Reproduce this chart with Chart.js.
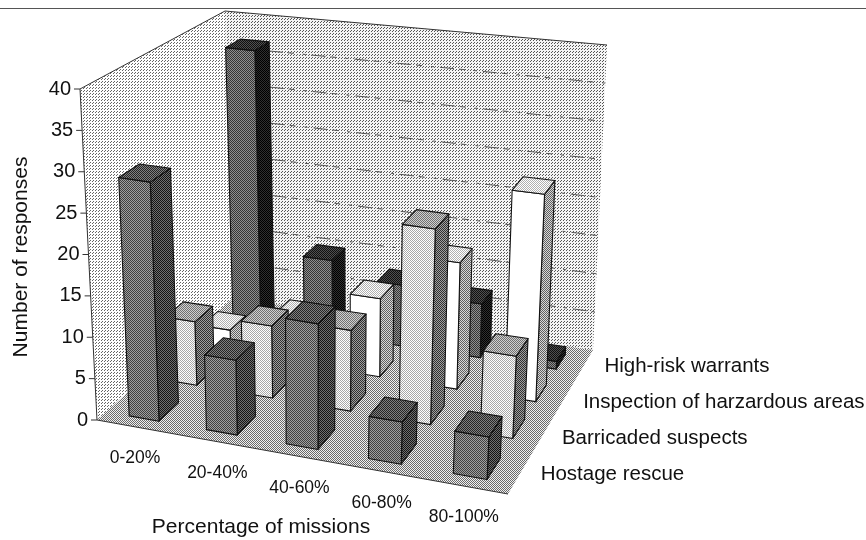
<!DOCTYPE html>
<html><head><meta charset="utf-8">
<style>html,body{margin:0;padding:0;background:#fff}canvas{display:block}</style>
<script src="https://cdn.jsdelivr.net/npm/chart.js@4/dist/chart.umd.js"></script>
</head><body><canvas id="c" width="866" height="540"></canvas>
<script>
const categories = ['0-20%','20-40%','40-60%','60-80%','80-100%'];
const hostageRescue = [29,9,15,5,5];
const barricadedSuspects = [8,9,10,24,10];
const inspectionAreas = [3,6,10,16,26];
const highRiskWarrants = [37,10,8,7,1];
const seriesNames = ['Hostage rescue','Barricaded suspects','Inspection of harzardous areas','High-risk warrants'];
const FONT = '"Liberation Sans", Arial, sans-serif';

// perspective frame of the 3D box: corners of floor and ceiling
const FLOOR = {fl:[97,420], fr:[508,494], bl:[233,298], br:[593,350]};
const CEIL  = {fl:[80,89],  fr:[525,150], bl:[225,11],  br:[607,45]};
const mix=(a,b,t)=>[a[0]+(b[0]-a[0])*t,a[1]+(b[1]-a[1])*t];
const bil=(q,u,v)=>mix(mix(q.fl,q.fr,u),mix(q.bl,q.br,u),v);
const P=(u,v,h)=>mix(bil(FLOOR,u,v),bil(CEIL,u,v),h);
// foreshortening along both floor directions, used for the boxes
const Q=(u,v,h)=>P(u-0.08*u*(1-u)*(1-0.5*v),v+0.24*v*(1-v),h);

function tile(size,bg,fg,cells){
  const c=document.createElement('canvas');c.width=c.height=size;
  const g=c.getContext('2d');g.fillStyle=bg;g.fillRect(0,0,size,size);
  g.fillStyle=fg;cells.forEach(p=>g.fillRect(p[0],p[1],1,1));
  return c;
}
const ctx0=document.getElementById('c').getContext('2d');
const pat=(t)=>ctx0.createPattern(t,'repeat');
const CHECK=[[0,0],[1,1]];
const wallP=pat(tile(3,'#f4f4f4','#555555',[[0,0],[2,1]]));
const leftP=pat(tile(3,'#ffffff','#666666',[[0,0],[2,1]]));
const floorP=pat(tile(2,'#f0f0f0','#6a6a6a',CHECK));
const FACES=[
 {front:pat(tile(2,'#a0a0a0','#404040',CHECK)),side:pat(tile(2,'#707070','#141414',CHECK)),top:pat(tile(2,'#808080','#252525',CHECK))},
 {front:pat(tile(2,'#ffffff','#a8a8a8',CHECK)),side:pat(tile(2,'#a0a0a0','#303030',CHECK)),top:pat(tile(2,'#d0d0d0','#707070',CHECK))},
 {front:'#ffffff',side:pat(tile(2,'#d8d8d8','#606060',CHECK)),top:pat(tile(2,'#ffffff','#b0b0b0',CHECK))},
 {front:pat(tile(2,'#909090','#353535',CHECK)),side:pat(tile(2,'#303030','#000000',CHECK)),top:pat(tile(2,'#505050','#101010',CHECK))}
];
function poly(ctx,pts,fill){
  ctx.beginPath();pts.forEach((p,i)=>i?ctx.lineTo(p[0],p[1]):ctx.moveTo(p[0],p[1]));ctx.closePath();
  if(fill){ctx.fillStyle=fill;ctx.fill();}
  ctx.strokeStyle='#111';ctx.lineWidth=1.1;ctx.stroke();
}
class Box3D extends Chart.BarElement{
  static id='box3d';
  drawBox(ctx,a,j){
    const {x,y,base,width}=this.getProps(['x','y','base','width']);
    const w=a.right-a.left;
    const u0=(x-width/2-a.left)/w, u1=(x+width/2-a.left)/w;
    const h=(base-y)/(base-a.top);
    const v0=(j+0.22)/4, v1=(j+0.72)/4;
    const f=FACES[j];
    ctx.save();ctx.lineJoin='round';
    poly(ctx,[Q(u1,v0,0),Q(u1,v1,0),Q(u1,v1,h),Q(u1,v0,h)],f.side);
    poly(ctx,[Q(u0,v0,0),Q(u1,v0,0),Q(u1,v0,h),Q(u0,v0,h)],f.front);
    poly(ctx,[Q(u0,v0,h),Q(u1,v0,h),Q(u1,v1,h),Q(u0,v1,h)],f.top);
    ctx.restore();
  }
}
class Bar3D extends Chart.BarController{
  static id='bar3d';
  static defaults={...Chart.BarController.defaults,dataElementType:'box3d'};
  draw(){
    const chart=this.chart;
    this._cachedMeta.data.forEach(el=>el.drawBox(chart.ctx,chart.chartArea,this.index));
  }
}
Chart.register(Box3D,Bar3D);

const frame={id:'frame',
  beforeDatasetsDraw(chart){
    const ctx=chart.ctx, yS=chart.scales.y;
    ctx.save();
    // rule at the top of the page
    ctx.strokeStyle='#555';ctx.lineWidth=1;ctx.beginPath();ctx.moveTo(0,8.5);ctx.lineTo(866,8.5);ctx.stroke();
    const noEdge=(pts,fill)=>{ctx.beginPath();pts.forEach((p,i)=>i?ctx.lineTo(p[0],p[1]):ctx.moveTo(p[0],p[1]));ctx.closePath();ctx.fillStyle=fill;ctx.fill();};
    noEdge([P(0,0,0),P(0,1,0),P(0,1,1),P(0,0,1)],leftP);
    noEdge([P(0,1,0),P(1,1,0),P(1,1,1),P(0,1,1)],wallP);
    noEdge([P(0,0,0),P(1,0,0),P(1,1,0),P(0,1,0)],floorP);
    // gridlines on the back wall
    ctx.strokeStyle='#555';ctx.lineWidth=1;
    yS.ticks.forEach(t=>{
      if(t.value===0||t.value===40) return;
      const h=t.value/yS.max;
      ctx.setLineDash([14,5,6,9,3,6]);
      ctx.beginPath();const a=P(0,1,h),b=P(1,1,h);ctx.moveTo(a[0],a[1]);ctx.lineTo(b[0],b[1]);ctx.stroke();
    });
    ctx.setLineDash([]);
    // frame edges
    ctx.strokeStyle='#333';ctx.lineWidth=1;
    [[P(0,0,0),P(1,0,0)],[P(0,0,0),P(0,0,1)],[P(0,0,1),P(0,1,1)],[P(0,1,1),P(1,1,1)]].forEach(s=>{ctx.beginPath();ctx.moveTo(s[0][0],s[0][1]);ctx.lineTo(s[1][0],s[1][1]);ctx.stroke();});
    ctx.restore();
  },
  afterDatasetsDraw(chart){
    const ctx=chart.ctx, yS=chart.scales.y, xS=chart.scales.x, a=chart.chartArea;
    ctx.save();ctx.fillStyle='#111';ctx.textBaseline='middle';
    // value axis
    ctx.font='20px '+FONT;ctx.textAlign='right';
    yS.ticks.forEach(t=>{
      const p=P(0,0,t.value/yS.max);
      ctx.strokeStyle='#333';ctx.lineWidth=1;ctx.beginPath();ctx.moveTo(p[0]-6,p[1]);ctx.lineTo(p[0],p[1]);ctx.stroke();
      ctx.fillText(String(t.value),p[0]-9,p[1]);
    });
    // category axis
    ctx.font='17.5px '+FONT;ctx.textAlign='center';
    categories.forEach((lab,i)=>{
      const u=(xS.getPixelForTick(i)-a.left)/(a.right-a.left);
      const p=P(u,0,0);
      ctx.fillText(lab,p[0]-3,p[1]+31);
    });
    // series labels
    ctx.font='20.5px '+FONT;ctx.textAlign='left';
    chart.data.datasets.forEach((d,j)=>{
      const p=P(1,(j+0.5)/4,0);
      ctx.fillText(d.label,p[0]+22,p[1]-2);
    });
    // axis titles
    ctx.font='21px '+FONT;ctx.textAlign='center';
    ctx.fillText('Percentage of missions',261,527);
    ctx.translate(21,257);ctx.rotate(-Math.PI/2);
    ctx.fillText('Number of responses',0,0);
    ctx.restore();
  }
};
const seriesData=[hostageRescue,barricadedSuspects,inspectionAreas,highRiskWarrants];
new Chart(document.getElementById('c'),{
  type:'bar3d',
  data:{labels:categories,datasets:seriesData.map((d,j)=>({label:seriesNames[j],data:d,clip:false}))},
  options:{
    responsive:false,animation:false,
    layout:{padding:{left:97,right:358,top:89,bottom:120}},
    datasets:{bar3d:{grouped:false,barPercentage:0.39,categoryPercentage:1}},
    plugins:{legend:{display:false},tooltip:{enabled:false},title:{display:false}},
    scales:{
      x:{type:'category',display:false},
      y:{type:'linear',display:false,min:0,max:40,ticks:{stepSize:5}}
    }
  },
  plugins:[frame]
});
</script></body></html>
